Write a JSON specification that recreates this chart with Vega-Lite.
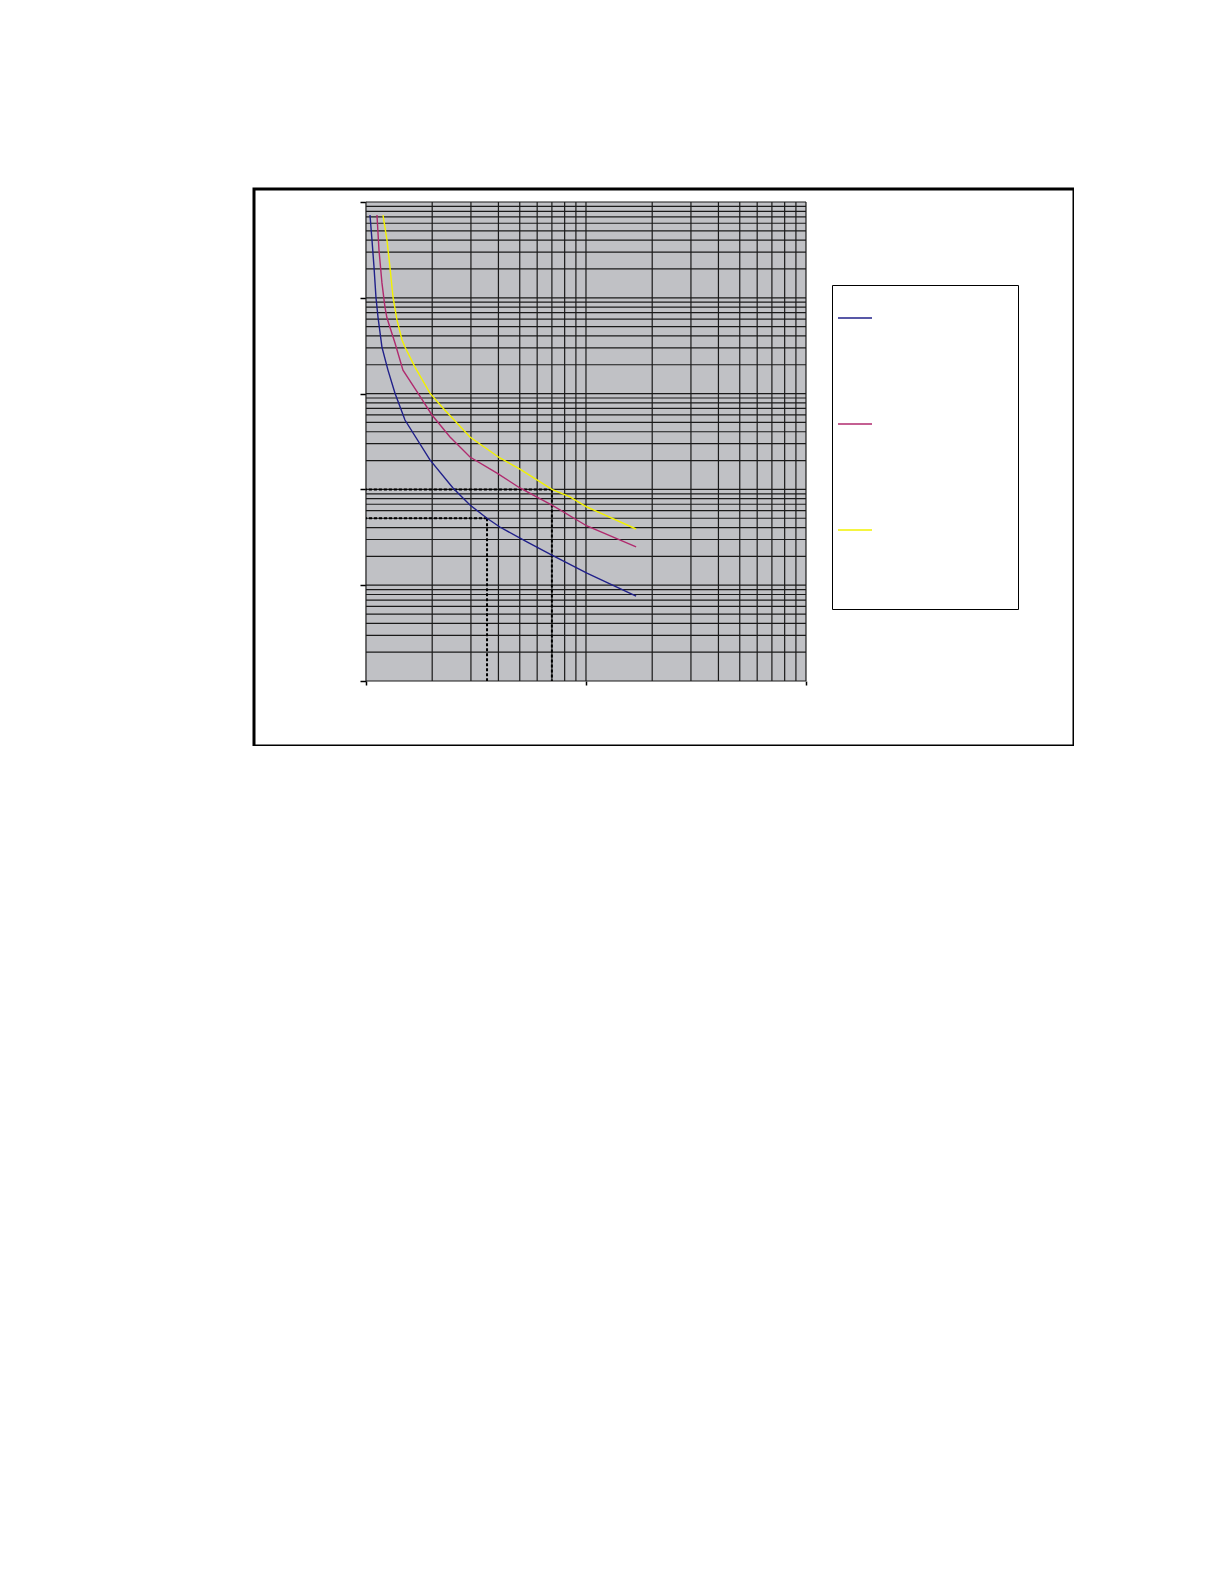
{
  "$schema": "https://vega.github.io/schema/vega-lite/v6.json",
  "width": 820,
  "height": 557,
  "autosize": "none",
  "padding": {"left": 254, "top": 189, "right": 0, "bottom": 0},
  "background": "white",
  "config": {
    "view": {"stroke": "#000", "strokeWidth": 3, "fill": "white"}
  },
  "datasets": {
    "curves": [
      {"series": "Curve 1", "x": 1.043, "y": 731},
      {"series": "Curve 1", "x": 1.065, "y": 401},
      {"series": "Curve 1", "x": 1.087, "y": 215},
      {"series": "Curve 1", "x": 1.11, "y": 102},
      {"series": "Curve 1", "x": 1.134, "y": 63},
      {"series": "Curve 1", "x": 1.182, "y": 30.6},
      {"series": "Curve 1", "x": 1.259, "y": 17.6},
      {"series": "Curve 1", "x": 1.355, "y": 10.1},
      {"series": "Curve 1", "x": 1.504, "y": 5.3},
      {"series": "Curve 1", "x": 1.954, "y": 2.03},
      {"series": "Curve 1", "x": 2.486, "y": 1.035},
      {"series": "Curve 1", "x": 2.97, "y": 0.687},
      {"series": "Curve 1", "x": 3.55, "y": 0.5},
      {"series": "Curve 1", "x": 4.06, "y": 0.405},
      {"series": "Curve 1", "x": 5.39, "y": 0.283},
      {"series": "Curve 1", "x": 7.0, "y": 0.2065},
      {"series": "Curve 1", "x": 10.1, "y": 0.134},
      {"series": "Curve 1", "x": 16.9, "y": 0.077},
      {"series": "Curve 2", "x": 1.122, "y": 731},
      {"series": "Curve 2", "x": 1.146, "y": 315},
      {"series": "Curve 2", "x": 1.182, "y": 143},
      {"series": "Curve 2", "x": 1.22, "y": 80},
      {"series": "Curve 2", "x": 1.246, "y": 61.5},
      {"series": "Curve 2", "x": 1.355, "y": 33.7},
      {"series": "Curve 2", "x": 1.473, "y": 17.6},
      {"series": "Curve 2", "x": 1.723, "y": 10.1},
      {"series": "Curve 2", "x": 1.995, "y": 5.98},
      {"series": "Curve 2", "x": 2.41, "y": 3.52},
      {"series": "Curve 2", "x": 2.97, "y": 2.18},
      {"series": "Curve 2", "x": 3.94, "y": 1.48},
      {"series": "Curve 2", "x": 5.01, "y": 1.035},
      {"series": "Curve 2", "x": 7.0, "y": 0.687},
      {"series": "Curve 2", "x": 10.1, "y": 0.415},
      {"series": "Curve 2", "x": 16.9, "y": 0.251},
      {"series": "Curve 3", "x": 1.195, "y": 731},
      {"series": "Curve 3", "x": 1.246, "y": 401},
      {"series": "Curve 3", "x": 1.285, "y": 210},
      {"series": "Curve 3", "x": 1.327, "y": 102},
      {"series": "Curve 3", "x": 1.383, "y": 58.7},
      {"series": "Curve 3", "x": 1.458, "y": 36.3},
      {"series": "Curve 3", "x": 1.504, "y": 30.6},
      {"series": "Curve 3", "x": 1.67, "y": 18.9},
      {"series": "Curve 3", "x": 1.954, "y": 10.1},
      {"series": "Curve 3", "x": 2.216, "y": 7.25},
      {"series": "Curve 3", "x": 2.97, "y": 3.52},
      {"series": "Curve 3", "x": 4.06, "y": 2.13},
      {"series": "Curve 3", "x": 5.01, "y": 1.63},
      {"series": "Curve 3", "x": 7.0, "y": 1.0},
      {"series": "Curve 3", "x": 8.46, "y": 0.834},
      {"series": "Curve 3", "x": 10.1, "y": 0.655},
      {"series": "Curve 3", "x": 16.9, "y": 0.386}
    ],
    "xgrid": [
      {"x": 1}, {"x": 2}, {"x": 3}, {"x": 4}, {"x": 5}, {"x": 6}, {"x": 7}, {"x": 8}, {"x": 9},
      {"x": 10}, {"x": 20}, {"x": 30}, {"x": 40}, {"x": 50}, {"x": 60}, {"x": 70}, {"x": 80}, {"x": 90},
      {"x": 100}
    ],
    "ygrid": [
      {"y": 0.01}, {"y": 0.02}, {"y": 0.03}, {"y": 0.04}, {"y": 0.05}, {"y": 0.06}, {"y": 0.07}, {"y": 0.08}, {"y": 0.09},
      {"y": 0.1}, {"y": 0.2}, {"y": 0.3}, {"y": 0.4}, {"y": 0.5}, {"y": 0.6}, {"y": 0.7}, {"y": 0.8}, {"y": 0.9},
      {"y": 1}, {"y": 2}, {"y": 3}, {"y": 4}, {"y": 5}, {"y": 6}, {"y": 7}, {"y": 8}, {"y": 9},
      {"y": 10}, {"y": 20}, {"y": 30}, {"y": 40}, {"y": 50}, {"y": 60}, {"y": 70}, {"y": 80}, {"y": 90},
      {"y": 100}, {"y": 200}, {"y": 300}, {"y": 400}, {"y": 500}, {"y": 600}, {"y": 700}, {"y": 800}, {"y": 900},
      {"y": 1000}
    ],
    "guides": [
      {"x": 3.55, "y": 0.5},
      {"x": 7, "y": 1}
    ]
  },
  "layer": [
    {
      "data": {"values": [{}]},
      "mark": {"type": "rect", "color": "#c0c1c5"},
      "encoding": {
        "x": {
          "datum": 1, "type": "quantitative",
          "scale": {"type": "log", "domain": [0.3098, 1652.6], "nice": false},
          "axis": {"values": [1, 10, 100], "offset": -65, "tickSize": 4, "tickWidth": 1.5, "tickColor": "#000", "labels": false, "domain": false, "grid": false, "title": null}
        },
        "x2": {"datum": 100},
        "y": {
          "datum": 0.01, "type": "quantitative",
          "scale": {"type": "log", "domain": [0.002097, 1367], "nice": false},
          "axis": {"values": [0.01, 0.1, 1, 10, 100, 1000], "offset": -112, "tickSize": 6, "tickWidth": 1.5, "tickColor": "#000", "labels": false, "domain": false, "grid": false, "title": null}
        },
        "y2": {"datum": 1000}
      }
    },
    {
      "data": {"name": "xgrid"},
      "mark": {"type": "rule", "color": "#1a1a1a", "strokeWidth": 1.2},
      "encoding": {
        "x": {
          "field": "x", "type": "quantitative",
          "scale": {"type": "log", "domain": [0.3098, 1652.6], "nice": false},
          "axis": {"values": [1, 10, 100], "offset": -65, "tickSize": 4, "tickWidth": 1.5, "tickColor": "#000", "labels": false, "domain": false, "grid": false, "title": null}
        },
        "y": {
          "datum": 0.01, "type": "quantitative",
          "scale": {"type": "log", "domain": [0.002097, 1367], "nice": false},
          "axis": {"values": [0.01, 0.1, 1, 10, 100, 1000], "offset": -112, "tickSize": 6, "tickWidth": 1.5, "tickColor": "#000", "labels": false, "domain": false, "grid": false, "title": null}
        },
        "y2": {"datum": 1000}
      }
    },
    {
      "data": {"name": "ygrid"},
      "mark": {"type": "rule", "color": "#1a1a1a", "strokeWidth": 1.2},
      "encoding": {
        "y": {
          "field": "y", "type": "quantitative",
          "scale": {"type": "log", "domain": [0.002097, 1367], "nice": false},
          "axis": {"values": [0.01, 0.1, 1, 10, 100, 1000], "offset": -112, "tickSize": 6, "tickWidth": 1.5, "tickColor": "#000", "labels": false, "domain": false, "grid": false, "title": null}
        },
        "x": {
          "datum": 1, "type": "quantitative",
          "scale": {"type": "log", "domain": [0.3098, 1652.6], "nice": false},
          "axis": {"values": [1, 10, 100], "offset": -65, "tickSize": 4, "tickWidth": 1.5, "tickColor": "#000", "labels": false, "domain": false, "grid": false, "title": null}
        },
        "x2": {"datum": 100}
      }
    },
    {
      "data": {"name": "guides"},
      "mark": {"type": "rule", "color": "#000", "strokeWidth": 2, "strokeDash": [3, 2]},
      "encoding": {
        "x": {
          "field": "x", "type": "quantitative",
          "scale": {"type": "log", "domain": [0.3098, 1652.6], "nice": false},
          "axis": {"values": [1, 10, 100], "offset": -65, "tickSize": 4, "tickWidth": 1.5, "tickColor": "#000", "labels": false, "domain": false, "grid": false, "title": null}
        },
        "x2": {"datum": 1},
        "y": {
          "field": "y", "type": "quantitative",
          "scale": {"type": "log", "domain": [0.002097, 1367], "nice": false},
          "axis": {"values": [0.01, 0.1, 1, 10, 100, 1000], "offset": -112, "tickSize": 6, "tickWidth": 1.5, "tickColor": "#000", "labels": false, "domain": false, "grid": false, "title": null}
        }
      }
    },
    {
      "data": {"name": "guides"},
      "mark": {"type": "rule", "color": "#000", "strokeWidth": 2, "strokeDash": [3, 2]},
      "encoding": {
        "x": {
          "field": "x", "type": "quantitative",
          "scale": {"type": "log", "domain": [0.3098, 1652.6], "nice": false},
          "axis": {"values": [1, 10, 100], "offset": -65, "tickSize": 4, "tickWidth": 1.5, "tickColor": "#000", "labels": false, "domain": false, "grid": false, "title": null}
        },
        "y": {
          "field": "y", "type": "quantitative",
          "scale": {"type": "log", "domain": [0.002097, 1367], "nice": false},
          "axis": {"values": [0.01, 0.1, 1, 10, 100, 1000], "offset": -112, "tickSize": 6, "tickWidth": 1.5, "tickColor": "#000", "labels": false, "domain": false, "grid": false, "title": null}
        },
        "y2": {"datum": 0.01}
      }
    },
    {
      "data": {"name": "curves"},
      "mark": {"type": "line", "strokeWidth": 1.4},
      "encoding": {
        "x": {
          "field": "x", "type": "quantitative",
          "scale": {"type": "log", "domain": [0.3098, 1652.6], "nice": false},
          "axis": {"values": [1, 10, 100], "offset": -65, "tickSize": 4, "tickWidth": 1.5, "tickColor": "#000", "labels": false, "domain": false, "grid": false, "title": null}
        },
        "y": {
          "field": "y", "type": "quantitative",
          "scale": {"type": "log", "domain": [0.002097, 1367], "nice": false},
          "axis": {"values": [0.01, 0.1, 1, 10, 100, 1000], "offset": -112, "tickSize": 6, "tickWidth": 1.5, "tickColor": "#000", "labels": false, "domain": false, "grid": false, "title": null}
        },
        "color": {
          "field": "series", "type": "nominal",
          "scale": {"domain": ["Curve 1", "Curve 2", "Curve 3"], "range": ["#20208a", "#b02a6e", "#f2f200"]},
          "legend": {
            "orient": "none", "legendX": 578, "legendY": 96,
            "title": " ", "titleOrient": "bottom", "titleFontSize": 30, "titlePadding": 16,
            "labelExpr": "''",
            "symbolType": "stroke", "symbolSize": 1156, "symbolStrokeWidth": 1.6, "symbolOffset": -10,
            "strokeColor": "#000", "padding": 6,
            "labelFontSize": 54, "labelOffset": 130, "rowPadding": 52
          }
        },
        "strokeWidth": {
          "field": "series", "type": "nominal",
          "scale": {"domain": ["Curve 1", "Curve 2", "Curve 3"], "range": [1.3, 1.3, 2.2]},
          "legend": null
        }
      }
    }
  ]
}
